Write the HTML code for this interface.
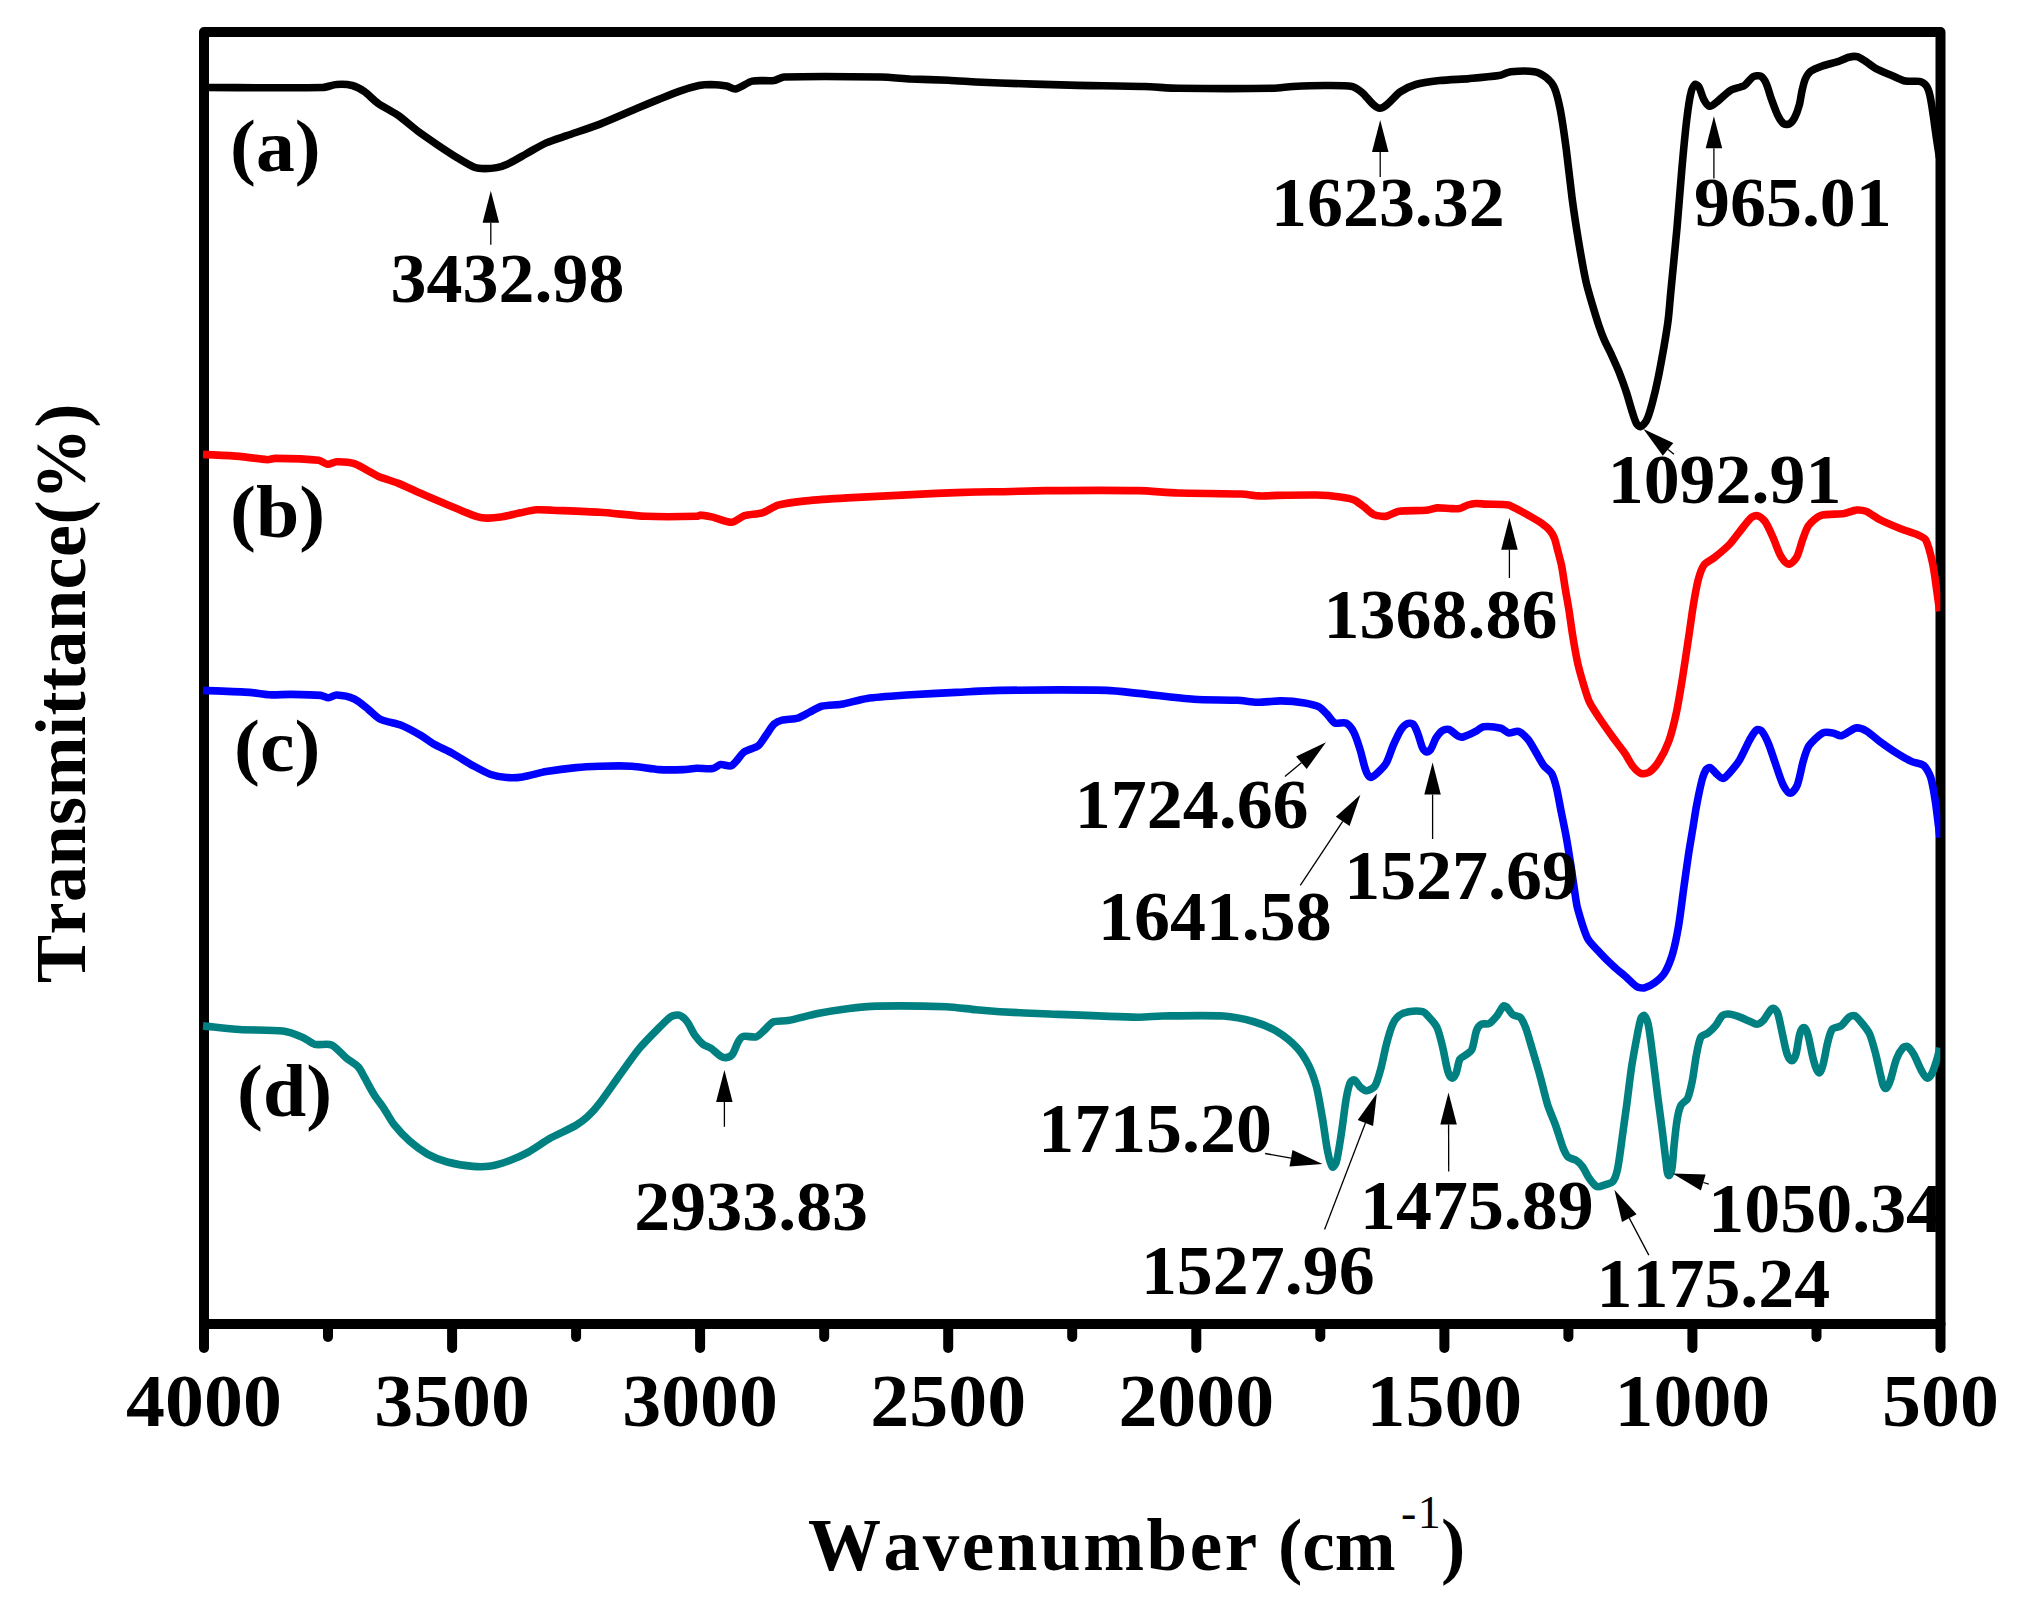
<!DOCTYPE html>
<html><head><meta charset="utf-8"><title>FTIR spectra</title>
<style>
html,body{margin:0;padding:0;background:#fff;}
body{width:2022px;height:1602px;overflow:hidden;}
svg{display:block;}
text{font-family:"Liberation Serif",serif;font-weight:bold;fill:#000;font-kerning:none;}
</style></head><body>
<svg width="2022" height="1602" viewBox="0 0 2022 1602">
<rect width="2022" height="1602" fill="#fff"/>

<g id="frame" stroke="#000" stroke-width="10" fill="none">
<rect x="204" y="32" width="1736.5" height="1292" stroke-linejoin="round"/>
<line x1="204.0" y1="1324" x2="204.0" y2="1348" stroke-linecap="round"/>
<line x1="328.0" y1="1324" x2="328.0" y2="1337" stroke-linecap="round"/>
<line x1="452.1" y1="1324" x2="452.1" y2="1348" stroke-linecap="round"/>
<line x1="576.1" y1="1324" x2="576.1" y2="1337" stroke-linecap="round"/>
<line x1="700.1" y1="1324" x2="700.1" y2="1348" stroke-linecap="round"/>
<line x1="824.2" y1="1324" x2="824.2" y2="1337" stroke-linecap="round"/>
<line x1="948.2" y1="1324" x2="948.2" y2="1348" stroke-linecap="round"/>
<line x1="1072.2" y1="1324" x2="1072.2" y2="1337" stroke-linecap="round"/>
<line x1="1196.3" y1="1324" x2="1196.3" y2="1348" stroke-linecap="round"/>
<line x1="1320.3" y1="1324" x2="1320.3" y2="1337" stroke-linecap="round"/>
<line x1="1444.4" y1="1324" x2="1444.4" y2="1348" stroke-linecap="round"/>
<line x1="1568.4" y1="1324" x2="1568.4" y2="1337" stroke-linecap="round"/>
<line x1="1692.4" y1="1324" x2="1692.4" y2="1348" stroke-linecap="round"/>
<line x1="1816.5" y1="1324" x2="1816.5" y2="1337" stroke-linecap="round"/>
<line x1="1940.5" y1="1324" x2="1940.5" y2="1348" stroke-linecap="round"/>
</g>
<clipPath id="cc"><rect x="202.5" y="0" width="1737.8" height="1602"/></clipPath>
<g id="curves" clip-path="url(#cc)" fill="none" stroke-width="7.6" stroke-linejoin="round" stroke-linecap="butt">
<path d="M203.0 87.5C232.9 87.5 292.8 88.2 322.7 87.5C326.2 87.4 333.0 84.7 336.5 84.5C340.4 84.2 348.5 84.5 352.3 85.5C355.5 86.3 361.5 89.5 364.2 91.4C367.9 94.0 374.3 100.7 378.0 103.3C382.7 106.6 393.1 111.9 397.8 115.2C403.0 118.8 412.5 127.2 417.6 131.0C422.4 134.6 432.4 141.4 437.4 144.8C442.3 148.1 452.1 154.6 457.2 157.7C461.6 160.3 470.3 165.7 475.0 167.6C477.3 168.5 482.4 168.6 484.9 168.6C487.9 168.6 493.8 168.2 496.7 167.6C499.8 167.0 505.8 164.9 508.6 163.6C513.2 161.4 521.9 156.2 526.4 153.7C531.3 151.0 541.1 145.2 546.2 142.9C551.0 140.7 561.0 137.6 566.0 135.9C574.5 132.9 591.6 127.4 600.0 124.1C610.0 120.2 629.7 111.4 639.6 107.3C649.4 103.2 669.1 95.1 679.1 91.4C683.9 89.6 693.9 86.6 698.9 85.5C701.8 84.9 707.8 84.5 710.8 84.5C714.8 84.6 722.7 85.2 726.6 85.9C728.9 86.3 733.2 89.4 735.5 89.0C740.1 88.1 747.8 82.1 752.3 81.1C757.6 79.9 768.7 81.2 774.1 80.5C776.7 80.2 781.4 77.1 784.0 77.0C808.2 76.2 856.7 76.6 880.9 77.0C888.3 77.1 903.2 78.6 910.6 79.0C920.0 79.4 938.8 79.8 948.2 80.2C955.1 80.5 969.0 81.6 975.9 82.0C981.9 82.3 994.0 82.8 1000.0 83.0C1017.3 83.6 1051.9 84.7 1069.2 85.1C1088.0 85.6 1125.6 85.9 1144.4 86.5C1152.8 86.7 1169.6 88.2 1178.0 88.3C1201.7 88.6 1249.3 88.7 1273.0 88.3C1278.0 88.2 1287.8 86.8 1292.8 86.5C1300.7 86.1 1316.5 85.5 1324.4 85.5C1331.3 85.5 1345.3 85.2 1352.1 86.5C1354.9 87.0 1359.7 90.6 1362.0 92.4C1366.7 96.1 1373.9 108.3 1379.8 108.2C1386.3 108.1 1394.6 95.6 1400.0 92.0C1403.7 89.6 1411.6 85.7 1415.8 84.5C1421.6 82.8 1433.6 81.3 1439.6 80.6C1447.0 79.8 1461.8 79.2 1469.2 78.6C1476.6 78.0 1491.5 76.8 1498.9 75.6C1502.0 75.1 1507.7 72.0 1510.8 71.7C1516.7 71.1 1528.7 70.7 1534.5 71.7C1537.8 72.2 1543.8 75.5 1546.4 77.6C1548.9 79.6 1553.0 84.6 1554.3 87.5C1556.5 92.7 1559.1 103.7 1560.2 109.2C1562.1 119.0 1564.9 138.9 1566.2 148.8C1567.8 161.2 1570.5 185.9 1572.1 198.3C1573.4 208.2 1576.4 228.0 1578.0 237.8C1579.8 248.7 1583.6 270.5 1585.9 281.3C1587.1 286.8 1590.3 297.7 1591.9 303.1C1593.6 308.8 1597.0 320.1 1598.9 325.7C1600.1 329.3 1602.8 336.5 1604.3 340.0C1605.8 343.4 1609.2 350.0 1610.8 353.4C1612.8 357.8 1616.9 366.7 1618.7 371.2C1620.8 376.6 1624.8 387.5 1626.6 393.0C1628.2 397.9 1630.9 407.9 1632.5 412.8C1633.4 415.5 1635.1 421.1 1636.5 423.6C1637.1 424.7 1639.3 427.0 1640.5 426.6C1642.5 426.0 1645.5 422.6 1646.4 420.7C1648.5 416.5 1651.1 407.4 1652.3 402.9C1654.0 396.5 1657.0 383.7 1658.3 377.2C1659.9 369.3 1662.8 353.4 1664.2 345.5C1665.3 339.1 1667.4 326.3 1668.2 319.8C1669.1 312.9 1670.1 298.9 1670.8 292.0C1672.3 276.0 1675.6 243.9 1677.0 227.9C1678.3 213.1 1680.6 183.4 1681.9 168.6C1683.0 156.2 1685.3 131.4 1686.8 119.1C1687.6 112.6 1689.3 99.7 1690.8 93.4C1691.3 91.0 1693.0 86.1 1694.8 84.5C1695.6 83.8 1698.1 85.6 1698.7 86.5C1700.5 89.4 1702.0 96.3 1703.7 99.3C1704.8 101.3 1707.4 105.8 1709.6 106.3C1711.5 106.8 1714.9 103.5 1716.5 102.3C1720.1 99.5 1726.5 92.8 1730.4 90.4C1733.6 88.5 1741.2 87.4 1744.4 85.5C1747.0 83.9 1750.4 78.3 1753.1 76.8C1754.8 75.9 1759.0 75.3 1760.7 76.2C1762.7 77.2 1765.2 81.3 1766.1 83.3C1767.9 87.2 1770.1 95.6 1771.6 99.6C1773.1 103.7 1776.1 112.0 1778.1 116.0C1779.1 118.1 1781.6 122.2 1783.5 123.6C1784.6 124.4 1787.8 124.7 1789.0 124.1C1790.8 123.2 1793.4 119.9 1794.4 118.1C1796.1 115.0 1798.4 108.4 1799.3 105.1C1800.3 101.6 1801.2 94.4 1802.0 90.9C1802.7 87.9 1804.0 81.8 1805.3 79.0C1806.3 76.9 1808.8 72.7 1810.7 71.3C1813.3 69.3 1819.6 67.0 1822.7 65.9C1826.4 64.6 1834.2 62.8 1837.9 61.6C1840.7 60.7 1845.9 57.9 1848.8 57.2C1850.9 56.7 1855.4 56.2 1857.5 56.7C1859.6 57.2 1863.3 59.8 1865.1 61.0C1867.9 62.8 1873.1 67.0 1876.0 68.6C1879.9 70.7 1888.2 74.0 1892.3 75.7C1895.6 77.1 1901.9 80.4 1905.4 81.1C1908.9 81.8 1916.1 80.7 1919.5 81.4C1921.4 81.8 1924.9 83.9 1926.1 85.5C1927.7 87.6 1929.3 92.7 1929.9 95.3C1931.2 100.7 1932.7 111.6 1933.5 117.0C1934.3 122.4 1935.7 133.4 1936.5 138.8C1937.2 143.6 1938.8 153.2 1939.5 158.0" stroke="#000"/>
<path d="M203.0 454.4C212.2 454.9 230.5 455.6 239.6 456.4C246.6 457.0 260.3 459.3 267.3 459.7C269.3 459.8 273.2 458.4 275.2 458.4C286.1 458.5 307.9 459.1 318.7 460.3C321.1 460.6 325.2 464.1 327.6 464.3C329.9 464.5 334.2 461.8 336.5 461.7C341.0 461.6 350.1 462.2 354.3 463.7C360.6 465.9 371.9 473.5 378.0 476.2C382.8 478.3 392.9 481.2 397.8 483.1C402.8 485.1 412.6 489.8 417.6 492.0C422.5 494.2 432.4 498.4 437.4 500.5C442.3 502.6 452.2 506.8 457.2 508.8C462.1 510.8 471.9 515.1 477.0 516.7C479.4 517.4 484.3 518.1 486.8 518.1C490.3 518.2 497.3 517.6 500.7 517.1C505.7 516.3 515.5 513.8 520.5 512.8C524.4 512.0 532.3 510.1 536.3 509.8C540.2 509.5 548.2 510.0 552.1 510.2C564.1 510.7 588.0 511.5 600.0 512.3C611.4 513.0 634.1 515.8 645.5 516.3C658.3 516.8 684.1 516.6 696.9 516.3C697.9 516.3 699.9 515.0 700.9 515.1C703.9 515.3 709.9 516.4 712.8 517.1C717.5 518.2 726.7 522.5 731.6 522.3C735.2 522.1 741.0 516.8 744.4 515.7C748.7 514.4 757.9 514.1 762.2 512.8C766.4 511.5 773.8 506.4 778.0 505.2C784.8 503.4 798.7 501.6 805.7 500.9C816.1 499.8 836.9 498.5 847.3 497.9C859.6 497.2 884.3 496.0 896.7 495.4C906.6 494.9 926.4 493.8 936.3 493.4C946.2 493.0 966.0 492.3 975.9 492.0C981.9 491.8 994.0 491.8 1000.0 491.7C1011.4 491.5 1034.1 490.7 1045.5 490.6C1068.7 490.4 1115.3 490.2 1138.5 490.6C1148.4 490.8 1168.1 492.7 1178.0 493.0C1193.8 493.5 1225.5 493.4 1241.3 494.0C1245.8 494.2 1254.6 495.7 1259.1 495.9C1263.6 496.1 1272.5 495.5 1277.0 495.4C1286.9 495.2 1306.6 494.8 1316.5 495.0C1322.5 495.1 1334.4 496.1 1340.3 496.9C1343.8 497.4 1350.8 498.5 1354.1 499.9C1356.9 501.1 1361.6 505.0 1364.0 506.8C1366.5 508.7 1371.1 513.2 1373.9 514.7C1375.7 515.6 1379.8 516.1 1381.8 516.3C1383.1 516.4 1385.8 516.4 1387.1 516.0C1390.2 515.1 1395.8 511.7 1399.0 511.2C1405.8 510.2 1419.5 510.9 1426.3 510.3C1429.0 510.1 1434.3 508.1 1437.0 507.9C1440.5 507.7 1447.6 508.5 1451.2 508.6C1453.3 508.7 1457.5 509.0 1459.5 508.6C1461.7 508.1 1465.6 505.7 1467.8 505.0C1469.8 504.4 1474.0 503.6 1476.1 503.5C1478.5 503.4 1483.2 504.0 1485.6 504.1C1491.2 504.4 1502.6 504.2 1508.2 505.0C1510.1 505.3 1513.6 507.3 1515.3 508.2C1518.9 510.1 1526.1 514.0 1529.6 516.0C1532.6 517.7 1538.6 521.1 1541.4 523.1C1543.6 524.7 1547.9 528.1 1549.7 530.2C1551.3 532.0 1553.6 536.3 1554.5 538.5C1555.7 541.7 1557.1 548.3 1558.0 551.6C1558.9 555.1 1560.9 562.2 1561.6 565.8C1562.7 571.4 1564.3 582.8 1565.2 588.4C1566.0 593.4 1567.9 603.5 1568.7 608.5C1569.8 615.1 1571.5 628.4 1572.6 635.0C1573.7 641.9 1576.1 655.8 1577.6 662.7C1578.8 668.2 1581.9 679.0 1583.5 684.4C1584.9 688.9 1587.5 698.0 1589.5 702.2C1591.5 706.4 1596.7 714.1 1599.3 718.0C1602.7 723.0 1609.7 732.9 1613.2 737.8C1616.1 741.8 1622.3 749.5 1625.1 753.6C1627.2 756.7 1630.6 763.5 1633.0 766.5C1634.6 768.5 1638.4 772.5 1640.9 773.4C1642.8 774.1 1647.1 773.5 1648.8 772.4C1651.9 770.4 1656.7 764.7 1658.7 761.6C1661.7 757.0 1666.7 747.0 1668.6 741.8C1671.2 734.6 1674.9 719.6 1676.5 712.1C1678.3 703.8 1681.0 686.9 1682.4 678.5C1684.0 668.6 1686.9 648.8 1688.4 638.9C1689.7 630.5 1691.9 613.7 1693.3 605.3C1694.4 598.8 1696.6 585.9 1698.3 579.6C1699.3 575.7 1701.8 567.9 1704.2 564.7C1706.0 562.3 1711.8 559.7 1714.1 557.8C1718.2 554.5 1726.3 547.8 1729.9 544.0C1733.1 540.7 1738.4 533.1 1741.3 529.5C1743.7 526.5 1748.3 520.1 1751.2 517.6C1752.4 516.6 1755.7 515.2 1757.2 515.6C1759.6 516.3 1763.6 519.6 1765.1 521.6C1767.7 525.2 1771.2 533.4 1773.0 537.4C1775.1 542.0 1778.3 551.8 1780.9 556.2C1782.3 558.6 1786.0 563.9 1788.8 564.1C1791.4 564.3 1795.4 559.5 1796.7 557.2C1799.0 553.1 1801.0 543.8 1802.7 539.4C1804.0 535.9 1806.3 528.5 1808.6 525.5C1810.9 522.4 1816.8 516.8 1820.5 515.6C1826.1 513.7 1838.3 514.5 1844.2 513.6C1847.3 513.1 1853.0 510.4 1856.1 510.1C1858.6 509.8 1863.7 510.4 1866.0 511.3C1869.7 512.8 1876.2 517.8 1879.8 519.6C1884.7 522.1 1894.9 526.4 1900.0 528.5C1904.4 530.3 1913.6 533.1 1918.0 535.0C1920.1 535.9 1924.7 537.9 1925.8 540.0C1928.6 545.5 1931.4 557.7 1932.7 563.7C1934.1 570.1 1935.7 583.0 1936.6 589.5C1937.4 594.9 1938.8 605.8 1939.6 611.2" stroke="#f00"/>
<path d="M203.0 690.4C214.6 690.9 237.9 691.6 249.5 692.4C254.5 692.7 264.2 694.6 269.2 694.8C274.6 695.1 285.5 694.3 291.0 694.4C298.4 694.5 313.3 694.7 320.7 695.4C322.8 695.6 326.5 697.9 328.6 697.8C330.7 697.7 334.4 694.9 336.5 695.0C341.1 695.2 350.1 697.1 354.3 699.0C358.2 700.8 364.8 706.5 368.2 709.2C371.2 711.6 376.5 717.4 380.0 719.1C385.1 721.6 396.5 723.4 401.8 725.5C407.0 727.6 416.8 733.1 421.6 735.9C424.7 737.7 430.3 742.2 433.4 743.9C438.2 746.6 448.4 751.0 453.2 753.7C458.3 756.5 467.9 762.8 473.0 765.6C477.4 768.0 486.1 772.8 490.8 774.5C494.6 775.8 502.6 777.2 506.6 777.5C510.6 777.8 518.6 777.5 522.5 776.9C528.5 776.0 540.2 772.6 546.2 771.6C553.6 770.3 568.4 768.3 575.9 767.6C581.9 767.0 594.0 766.4 600.0 766.2C607.9 766.0 623.8 765.7 631.7 766.2C638.6 766.6 652.4 769.1 659.3 769.6C665.2 770.0 677.2 769.8 683.1 769.6C686.6 769.5 693.4 768.3 696.9 768.2C700.9 768.1 708.9 769.2 712.8 768.6C715.0 768.3 718.5 764.9 720.7 764.6C723.4 764.2 729.2 766.9 731.6 765.6C735.7 763.4 740.6 754.6 744.4 751.8C747.4 749.5 755.3 748.1 758.3 745.8C760.9 743.8 764.2 737.7 766.2 735.0C768.2 732.3 771.7 726.4 774.1 724.1C775.7 722.6 779.9 720.6 782.0 720.1C785.9 719.1 794.0 719.2 797.8 718.1C801.0 717.2 806.7 713.7 809.7 712.2C812.7 710.7 818.4 707.1 821.6 706.3C826.4 705.1 836.4 705.1 841.3 704.3C847.8 703.2 860.5 699.3 867.1 698.4C876.9 697.0 896.7 695.7 906.6 695.0C919.0 694.2 943.7 693.0 956.1 692.4C967.1 691.9 989.0 690.5 1000.0 690.4C1026.7 690.0 1080.1 689.8 1106.8 690.4C1114.8 690.6 1130.6 692.6 1138.5 693.4C1152.4 694.8 1180.0 698.3 1193.9 699.3C1204.8 700.1 1226.5 699.8 1237.4 700.3C1242.4 700.5 1252.2 702.2 1257.2 702.3C1263.1 702.4 1275.0 700.8 1280.9 700.9C1286.8 701.0 1298.7 702.0 1304.6 702.9C1308.3 703.5 1315.7 705.2 1319.0 706.9C1321.4 708.1 1325.0 712.1 1326.9 714.0C1329.0 716.1 1332.1 721.7 1334.8 723.0C1337.3 724.2 1343.4 721.8 1345.9 723.0C1348.6 724.3 1352.4 729.5 1353.8 732.2C1356.0 736.3 1358.7 745.2 1360.1 749.6C1361.7 754.7 1363.8 765.2 1365.7 770.2C1366.4 772.2 1368.4 776.5 1370.4 777.3C1371.9 777.9 1374.8 775.3 1376.0 774.2C1378.8 771.7 1384.3 766.3 1386.2 763.1C1388.7 758.9 1391.4 749.4 1393.4 744.9C1395.2 740.9 1398.9 732.8 1401.3 729.1C1402.5 727.3 1405.6 724.3 1407.6 723.5C1408.9 723.0 1412.2 723.3 1413.2 724.3C1415.1 726.2 1416.9 731.3 1417.9 733.8C1419.3 737.3 1421.0 744.6 1422.6 748.0C1423.2 749.3 1425.2 751.7 1426.6 752.0C1427.7 752.2 1430.0 750.6 1430.6 749.6C1432.4 746.9 1434.4 740.6 1436.1 737.8C1437.4 735.8 1440.4 731.9 1442.4 730.6C1443.8 729.7 1447.3 728.9 1448.8 729.4C1451.6 730.4 1455.7 734.8 1458.3 736.2C1459.4 736.8 1461.9 737.3 1463.0 737.0C1466.3 736.1 1472.6 733.0 1475.7 731.4C1477.8 730.4 1481.3 727.0 1483.6 726.7C1487.9 726.2 1496.8 727.2 1501.0 728.3C1503.2 728.9 1506.6 732.6 1508.9 733.0C1511.3 733.4 1516.1 730.6 1518.4 731.4C1521.3 732.4 1525.9 736.9 1527.9 739.3C1530.3 742.2 1533.9 748.8 1535.8 752.0C1537.8 755.3 1541.4 762.4 1543.7 765.5C1545.4 767.7 1550.2 771.0 1551.6 773.4C1553.5 776.6 1555.5 784.0 1556.4 787.6C1557.9 793.5 1559.9 805.4 1561.1 811.3C1562.3 817.3 1564.8 829.1 1565.9 835.1C1567.2 842.2 1569.5 856.5 1570.6 863.6C1571.8 871.1 1573.8 886.1 1575.0 893.6C1575.6 897.4 1576.6 904.9 1577.6 908.6C1579.7 916.1 1584.0 931.3 1587.5 938.3C1589.5 942.4 1596.2 948.8 1599.3 952.1C1602.6 955.7 1609.6 962.7 1613.2 966.0C1616.5 969.1 1623.6 974.8 1627.0 977.8C1629.5 980.0 1634.0 985.1 1636.9 986.7C1638.6 987.7 1642.9 988.1 1644.8 987.7C1647.5 987.1 1652.5 984.5 1654.7 982.8C1657.5 980.7 1662.8 975.9 1664.6 972.9C1667.3 968.6 1671.0 959.0 1672.5 954.1C1674.5 947.3 1677.3 933.4 1678.5 926.4C1680.0 917.5 1682.2 899.7 1683.4 890.8C1684.6 881.9 1687.1 864.1 1688.4 855.2C1689.5 847.8 1692.1 832.9 1693.3 825.5C1694.1 820.9 1695.4 811.7 1696.3 807.1C1697.6 800.1 1700.4 786.2 1702.2 779.4C1702.9 776.8 1704.7 771.7 1706.2 769.5C1706.8 768.6 1709.1 767.1 1710.1 767.5C1712.1 768.3 1714.5 772.0 1716.1 773.4C1717.7 774.8 1720.9 778.6 1723.0 778.4C1725.3 778.2 1728.4 774.1 1729.9 772.4C1732.6 769.4 1737.7 763.1 1739.8 759.6C1742.7 754.9 1747.0 744.6 1749.7 739.8C1751.2 737.2 1754.2 731.7 1756.6 729.9C1757.6 729.1 1760.8 729.9 1761.6 730.9C1764.0 733.7 1767.1 740.4 1768.5 743.8C1770.5 748.6 1773.6 758.6 1775.4 763.5C1777.3 769.0 1780.7 780.1 1783.3 785.3C1784.5 787.6 1787.6 793.2 1790.2 793.2C1792.8 793.2 1796.2 787.7 1797.2 785.3C1799.5 779.6 1801.4 767.5 1803.1 761.6C1804.3 757.5 1806.6 749.2 1809.0 745.7C1811.7 741.8 1818.7 735.1 1822.9 732.9C1825.1 731.7 1830.4 732.5 1832.8 732.9C1834.9 733.2 1838.6 735.9 1840.7 735.8C1842.9 735.7 1846.6 732.9 1848.6 731.9C1850.6 730.9 1854.3 728.0 1856.5 727.9C1859.1 727.8 1864.2 729.6 1866.4 730.9C1870.2 733.1 1876.7 739.2 1880.3 741.8C1884.2 744.6 1892.0 750.2 1896.1 752.7C1899.9 755.1 1907.8 759.7 1911.9 761.6C1914.7 762.9 1921.4 763.5 1923.8 765.5C1926.4 767.7 1929.7 774.1 1930.7 777.4C1932.7 783.6 1934.6 796.6 1935.6 803.1C1936.5 809.0 1937.8 820.9 1938.6 826.8C1938.9 829.5 1939.6 834.8 1940.0 837.4" stroke="#00f"/>
<path d="M203.0 1025.9C212.2 1026.8 230.4 1028.9 239.6 1029.5C250.5 1030.2 272.3 1029.7 283.1 1031.0C288.3 1031.6 298.1 1035.4 302.9 1037.4C306.0 1038.7 311.4 1043.4 314.7 1044.3C318.8 1045.4 327.7 1043.2 331.6 1044.9C336.1 1046.9 342.6 1054.9 346.4 1058.1C349.3 1060.5 355.7 1064.3 358.3 1067.0C360.3 1069.1 362.8 1074.4 364.2 1076.9C366.7 1081.3 371.4 1090.4 374.1 1094.7C376.4 1098.3 381.6 1105.1 384.0 1108.6C386.6 1112.5 391.0 1120.7 393.9 1124.4C397.5 1128.9 405.4 1137.4 409.7 1141.2C413.8 1144.8 422.7 1151.4 427.5 1154.1C432.2 1156.7 442.2 1160.6 447.3 1162.0C453.6 1163.7 466.5 1165.8 473.0 1166.4C477.4 1166.8 486.4 1166.7 490.8 1166.0C495.4 1165.3 504.3 1162.6 508.6 1161.0C513.7 1159.1 523.6 1154.7 528.4 1152.1C534.0 1149.0 544.5 1141.5 550.1 1138.3C556.4 1134.8 569.7 1129.0 575.9 1125.4C579.1 1123.5 585.0 1119.0 587.7 1116.5C591.1 1113.3 597.2 1106.4 600.0 1102.7C605.2 1096.0 614.8 1081.9 619.8 1075.0C624.7 1068.3 634.3 1054.6 639.6 1048.2C644.2 1042.7 654.2 1032.6 659.3 1027.5C662.2 1024.6 667.8 1018.7 671.2 1016.6C672.9 1015.5 677.2 1014.6 679.1 1015.2C681.5 1015.9 685.4 1019.5 687.0 1021.5C689.5 1024.7 692.7 1032.1 695.0 1035.4C696.7 1037.8 700.6 1042.4 702.9 1044.3C704.6 1045.7 709.0 1047.0 710.8 1048.2C713.4 1050.0 718.0 1054.6 720.7 1056.2C722.0 1057.0 725.1 1057.8 726.6 1057.5C728.3 1057.2 731.5 1055.6 732.5 1054.2C734.6 1051.3 736.6 1044.3 738.5 1041.3C739.4 1039.8 741.7 1036.8 743.4 1036.4C746.5 1035.6 753.2 1037.7 756.3 1036.8C758.7 1036.1 762.3 1032.1 764.2 1030.4C766.5 1028.4 770.3 1023.1 773.1 1021.9C776.5 1020.5 784.2 1021.3 787.9 1020.6C795.4 1019.2 810.1 1015.1 817.6 1013.6C825.0 1012.1 839.8 1009.6 847.3 1008.7C854.7 1007.8 869.5 1006.3 877.0 1006.1C894.3 1005.8 928.9 1006.1 946.2 1006.7C953.7 1007.0 968.5 1009.0 975.9 1009.7C981.9 1010.3 994.0 1011.3 1000.0 1011.7C1012.4 1012.4 1037.1 1013.5 1049.5 1014.0C1071.7 1014.9 1116.2 1016.8 1138.5 1017.2C1144.4 1017.3 1156.3 1016.1 1162.2 1016.0C1177.5 1015.8 1208.2 1015.1 1223.5 1016.0C1231.0 1016.5 1245.9 1019.4 1253.2 1021.5C1259.4 1023.3 1271.5 1028.1 1277.0 1031.4C1282.4 1034.6 1292.4 1042.7 1296.7 1047.3C1300.4 1051.2 1306.2 1060.3 1308.6 1065.1C1311.2 1070.3 1315.0 1081.2 1316.5 1086.8C1318.5 1094.6 1321.1 1110.6 1322.5 1118.5C1323.9 1126.4 1325.8 1142.3 1327.4 1150.1C1328.3 1154.4 1329.7 1163.4 1332.3 1166.9C1333.2 1168.2 1335.9 1163.5 1336.3 1162.0C1338.2 1155.2 1340.1 1141.2 1341.2 1134.3C1342.6 1125.4 1344.7 1107.6 1346.2 1098.7C1346.9 1094.7 1348.5 1086.7 1350.1 1082.9C1350.6 1081.7 1352.9 1079.4 1354.1 1079.9C1356.2 1080.7 1358.3 1085.3 1360.0 1086.8C1361.5 1088.1 1365.0 1090.9 1367.0 1090.8C1369.3 1090.7 1373.7 1088.0 1374.9 1086.0C1377.4 1082.0 1379.7 1072.6 1381.0 1068.0C1382.6 1062.1 1384.9 1049.9 1386.5 1044.0C1387.8 1039.0 1390.6 1029.0 1392.7 1024.3C1393.8 1021.8 1396.9 1017.3 1399.0 1015.6C1401.0 1014.0 1406.0 1012.1 1408.5 1011.7C1412.0 1011.1 1419.3 1010.8 1422.7 1011.7C1424.7 1012.2 1427.7 1015.6 1429.1 1017.2C1431.3 1019.6 1435.7 1024.5 1437.0 1027.5C1439.1 1032.0 1441.3 1041.7 1442.5 1046.5C1444.1 1052.8 1446.1 1065.6 1448.0 1071.8C1448.5 1073.6 1450.2 1077.7 1452.0 1078.1C1453.5 1078.4 1455.4 1074.8 1456.0 1073.4C1457.4 1070.0 1458.2 1062.4 1459.9 1059.1C1460.7 1057.6 1464.2 1056.3 1465.5 1055.2C1467.1 1053.9 1470.9 1051.5 1471.8 1049.6C1473.8 1045.1 1474.8 1035.2 1476.5 1030.6C1477.2 1028.7 1479.6 1025.3 1481.3 1024.3C1483.0 1023.3 1487.5 1024.5 1489.2 1023.5C1491.6 1022.2 1495.3 1017.8 1497.1 1015.6C1498.9 1013.4 1501.3 1008.0 1503.4 1006.1C1504.0 1005.5 1506.0 1006.3 1506.6 1006.9C1508.5 1008.6 1510.9 1013.3 1512.9 1014.8C1514.4 1016.0 1518.8 1015.9 1520.1 1017.2C1522.2 1019.3 1524.6 1024.8 1525.6 1027.5C1527.5 1032.5 1530.4 1042.9 1531.9 1048.0C1533.9 1054.7 1537.9 1068.2 1539.8 1075.0C1541.9 1082.5 1545.4 1097.6 1547.7 1105.0C1549.4 1110.3 1553.8 1120.4 1555.7 1125.6C1557.8 1131.5 1561.3 1143.5 1563.6 1149.3C1564.5 1151.4 1566.6 1155.7 1568.3 1157.2C1569.9 1158.6 1574.4 1159.2 1576.2 1160.4C1578.1 1161.6 1581.3 1164.9 1582.6 1166.7C1584.5 1169.3 1587.0 1175.2 1588.9 1177.8C1590.6 1180.2 1594.1 1185.3 1596.8 1186.5C1598.6 1187.3 1602.8 1185.5 1604.7 1184.9C1606.7 1184.3 1611.2 1183.4 1612.6 1181.8C1614.7 1179.4 1616.7 1173.0 1617.4 1169.9C1619.1 1162.1 1621.0 1146.2 1622.1 1138.3C1623.3 1129.6 1625.7 1112.1 1626.9 1103.4C1628.1 1094.3 1630.2 1076.1 1631.6 1067.0C1632.8 1059.1 1635.7 1043.3 1637.2 1035.4C1638.0 1031.0 1639.6 1022.2 1641.1 1018.0C1641.4 1017.1 1643.6 1014.9 1644.3 1015.6C1646.1 1017.2 1647.7 1022.0 1648.2 1024.3C1649.8 1032.1 1651.7 1048.1 1652.7 1056.0C1654.0 1065.5 1656.2 1084.4 1657.4 1093.9C1658.6 1103.0 1661.0 1121.2 1662.2 1130.3C1663.2 1138.2 1665.0 1154.1 1666.1 1162.0C1666.6 1165.4 1666.5 1172.6 1668.5 1175.4C1669.4 1176.7 1671.4 1171.5 1671.7 1169.9C1672.8 1164.1 1673.4 1152.1 1674.0 1146.2C1674.7 1139.5 1676.0 1126.0 1677.2 1119.3C1677.8 1115.6 1679.4 1108.3 1681.1 1105.0C1682.1 1103.0 1686.5 1100.7 1687.5 1098.7C1689.4 1094.6 1691.3 1085.7 1692.2 1081.3C1693.5 1075.0 1695.0 1062.3 1696.2 1056.0C1697.1 1051.2 1698.7 1041.4 1700.9 1037.0C1701.8 1035.2 1706.4 1034.3 1708.0 1033.0C1710.2 1031.3 1714.2 1027.3 1716.0 1025.1C1717.8 1022.9 1720.2 1017.5 1722.3 1015.6C1723.5 1014.5 1727.0 1013.9 1728.6 1014.0C1731.0 1014.1 1735.8 1015.6 1738.1 1016.4C1740.9 1017.4 1746.4 1019.9 1749.2 1021.1C1751.2 1021.9 1755.0 1024.4 1757.1 1024.3C1759.0 1024.2 1762.1 1021.7 1763.4 1020.4C1765.4 1018.3 1767.9 1013.1 1769.8 1010.9C1770.5 1010.0 1772.6 1008.2 1773.7 1008.5C1775.2 1008.9 1777.2 1011.7 1777.7 1013.2C1779.4 1018.2 1781.2 1028.7 1782.4 1033.8C1783.6 1039.0 1785.4 1049.4 1787.2 1054.4C1787.9 1056.3 1789.9 1060.7 1791.9 1060.7C1793.8 1060.7 1795.4 1056.2 1795.9 1054.4C1797.4 1049.4 1798.3 1038.8 1799.8 1033.8C1800.3 1032.0 1801.9 1027.5 1803.8 1027.5C1805.7 1027.5 1807.2 1032.0 1807.7 1033.8C1809.6 1040.0 1811.5 1052.9 1813.3 1059.1C1814.3 1062.6 1815.8 1070.6 1818.8 1072.6C1820.5 1073.7 1822.2 1067.5 1822.8 1065.5C1824.4 1060.1 1826.1 1048.8 1827.5 1043.3C1828.4 1039.7 1830.0 1032.1 1832.3 1029.1C1833.7 1027.3 1839.1 1027.3 1841.0 1025.9C1843.4 1024.2 1846.6 1019.0 1848.9 1017.2C1850.0 1016.3 1853.1 1015.0 1854.4 1015.6C1856.7 1016.6 1860.0 1020.8 1861.6 1022.7C1863.8 1025.3 1868.1 1030.7 1869.5 1033.8C1871.7 1038.7 1874.4 1049.2 1875.8 1054.4C1877.4 1060.3 1879.7 1072.2 1881.3 1078.1C1882.0 1080.8 1882.7 1087.4 1885.3 1088.4C1887.3 1089.1 1889.2 1083.3 1890.0 1081.3C1892.0 1075.9 1894.3 1064.5 1896.4 1059.1C1897.5 1056.1 1900.6 1050.4 1902.7 1048.0C1903.5 1047.1 1906.3 1045.9 1907.4 1046.5C1909.6 1047.8 1912.5 1052.2 1913.8 1054.4C1916.1 1058.4 1919.4 1067.0 1921.7 1071.0C1922.8 1073.0 1925.0 1077.6 1927.2 1078.1C1928.8 1078.5 1931.2 1074.9 1932.0 1073.4C1933.9 1069.6 1936.3 1061.5 1937.5 1057.5C1938.2 1055.2 1939.3 1050.4 1939.9 1048.0" stroke="#008080"/>
</g>
<g id="series">
<text transform="translate(230.1 171.3) scale(1.05 1)" font-size="74" text-anchor="start">(a)</text>
<text transform="translate(230.1 536.6) scale(1.05 1)" font-size="74" text-anchor="start">(b)</text>
<text transform="translate(234.1 771.4) scale(1.05 1)" font-size="74" text-anchor="start">(c)</text>
<text transform="translate(237.1 1115.6) scale(1.05 1)" font-size="74" text-anchor="start">(d)</text>
</g>
<g id="peaks">
<text transform="translate(390.6 302.0) scale(1.035 1)" font-size="69.5" text-anchor="start">3432.98</text>
<text transform="translate(1271.0 226.0) scale(1.035 1)" font-size="69.5" text-anchor="start">1623.32</text>
<text transform="translate(1694.0 226.0) scale(1.035 1)" font-size="69.5" text-anchor="start">965.01</text>
<text transform="translate(1607.7 502.8) scale(1.035 1)" font-size="69.5" text-anchor="start">1092.91</text>
<text transform="translate(1323.6 638.4) scale(1.035 1)" font-size="69.5" text-anchor="start">1368.86</text>
<text transform="translate(1074.8 827.9) scale(1.035 1)" font-size="69.5" text-anchor="start">1724.66</text>
<text transform="translate(1098.0 939.7) scale(1.035 1)" font-size="69.5" text-anchor="start">1641.58</text>
<text transform="translate(1344.2 899.2) scale(1.035 1)" font-size="69.5" text-anchor="start">1527.69</text>
<text transform="translate(634.3 1230.2) scale(1.035 1)" font-size="69.5" text-anchor="start">2933.83</text>
<text transform="translate(1038.2 1151.7) scale(1.035 1)" font-size="69.5" text-anchor="start">1715.20</text>
<text transform="translate(1140.9 1293.7) scale(1.035 1)" font-size="69.5" text-anchor="start">1527.96</text>
<text transform="translate(1360.0 1229.0) scale(1.035 1)" font-size="69.5" text-anchor="start">1475.89</text>
<text transform="translate(1596.5 1306.7) scale(1.035 1)" font-size="69.5" text-anchor="start">1175.24</text>
<text transform="translate(1708.3 1231.9) scale(1.035 1)" font-size="69.5" text-anchor="start">1050.34</text>
</g>
<g id="arrows">
<line x1="490.8" y1="222.7" x2="490.8" y2="244.7" stroke="#000" stroke-width="1.3"/><polygon points="490.8,190.7 482.6,222.7 499.1,222.7" fill="#000"/>
<line x1="1380.2" y1="152.1" x2="1380.2" y2="176.9" stroke="#000" stroke-width="1.3"/><polygon points="1380.2,120.1 1372.0,152.1 1388.5,152.1" fill="#000"/>
<line x1="1713.9" y1="148.2" x2="1713.9" y2="178.5" stroke="#000" stroke-width="1.3"/><polygon points="1713.9,116.2 1705.7,148.2 1722.2,148.2" fill="#000"/>
<line x1="1668.1" y1="449.4" x2="1674.0" y2="454.3" stroke="#000" stroke-width="1.3"/><polygon points="1643.4,429.0 1662.8,455.7 1673.3,443.0" fill="#000"/>
<line x1="1509.4" y1="549.7" x2="1509.4" y2="578.0" stroke="#000" stroke-width="1.3"/><polygon points="1509.4,517.7 1501.2,549.7 1517.7,549.7" fill="#000"/>
<line x1="1301.4" y1="762.8" x2="1284.9" y2="776.5" stroke="#000" stroke-width="1.3"/><polygon points="1326.0,742.3 1296.1,756.4 1306.7,769.1" fill="#000"/>
<line x1="1342.7" y1="821.4" x2="1300.3" y2="885.3" stroke="#000" stroke-width="1.3"/><polygon points="1360.4,794.7 1335.8,816.8 1349.6,825.9" fill="#000"/>
<line x1="1432.6" y1="794.6" x2="1432.6" y2="839.0" stroke="#000" stroke-width="1.3"/><polygon points="1432.6,762.6 1424.3,794.6 1440.8,794.6" fill="#000"/>
<line x1="724.4" y1="1102.0" x2="724.4" y2="1126.8" stroke="#000" stroke-width="1.3"/><polygon points="724.4,1070.0 716.1,1102.0 732.6,1102.0" fill="#000"/>
<line x1="1291.0" y1="1158.2" x2="1265.1" y2="1153.5" stroke="#000" stroke-width="1.3"/><polygon points="1322.5,1164.0 1292.5,1150.1 1289.5,1166.4" fill="#000"/>
<line x1="1365.4" y1="1123.1" x2="1324.6" y2="1229.5" stroke="#000" stroke-width="1.3"/><polygon points="1376.9,1093.2 1357.7,1120.1 1373.1,1126.0" fill="#000"/>
<line x1="1448.6" y1="1124.4" x2="1448.7" y2="1171.4" stroke="#000" stroke-width="1.3"/><polygon points="1448.5,1092.4 1440.3,1124.4 1456.8,1124.4" fill="#000"/>
<line x1="1629.3" y1="1218.1" x2="1648.8" y2="1255.1" stroke="#000" stroke-width="1.3"/><polygon points="1614.4,1189.8 1622.0,1222.0 1636.6,1214.3" fill="#000"/>
<line x1="1703.3" y1="1182.5" x2="1708.8" y2="1184.2" stroke="#000" stroke-width="1.3"/><polygon points="1672.6,1173.4 1700.9,1190.5 1705.6,1174.6" fill="#000"/>
</g>
<g id="ticks">
<text transform="translate(204.0 1426.0) scale(1.06 1)" font-size="73.5" text-anchor="middle">4000</text>
<text transform="translate(452.1 1426.0) scale(1.06 1)" font-size="73.5" text-anchor="middle">3500</text>
<text transform="translate(700.1 1426.0) scale(1.06 1)" font-size="73.5" text-anchor="middle">3000</text>
<text transform="translate(948.2 1426.0) scale(1.06 1)" font-size="73.5" text-anchor="middle">2500</text>
<text transform="translate(1196.3 1426.0) scale(1.06 1)" font-size="73.5" text-anchor="middle">2000</text>
<text transform="translate(1444.4 1426.0) scale(1.06 1)" font-size="73.5" text-anchor="middle">1500</text>
<text transform="translate(1692.4 1426.0) scale(1.06 1)" font-size="73.5" text-anchor="middle">1000</text>
<text transform="translate(1940.5 1426.0) scale(1.06 1)" font-size="73.5" text-anchor="middle">500</text>
</g>
<g id="xtitle">
<text x="808" y="1570" font-size="73" letter-spacing="2.6">Wavenumber</text>
<text x="1278" y="1570" font-size="73" letter-spacing="0">(cm</text>
<text x="1401" y="1528" font-size="46" style="font-weight:normal" letter-spacing="1.5">-1</text>
<text x="1441" y="1570" font-size="73">)</text>
</g>
<text id="ytitle" transform="translate(84.6 983) rotate(-90)" font-size="72" letter-spacing="0.5">Transmittance(%)</text>
</svg></body></html>
